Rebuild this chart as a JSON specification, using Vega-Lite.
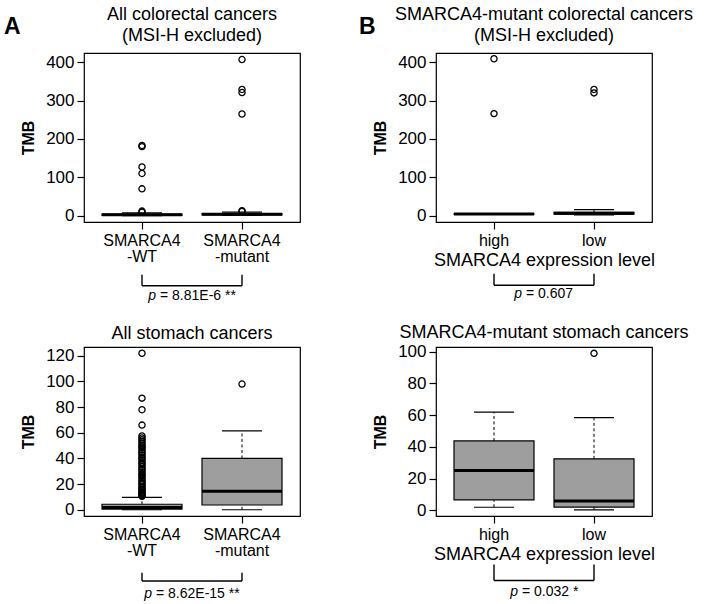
{
  "$schema": "https://vega.github.io/schema/vega-lite/v6.json",
  "padding": {"left": 4, "top": 5, "right": 5, "bottom": 5},
  "background": "white",
  "datasets": {
    "boxes": [
      {"panel": "TL", "group": "SMARCA4-WT", "lower": 0, "q1": 0.8, "median": 2.2, "q3": 4.2, "upper": 7.5},
      {"panel": "TL", "group": "SMARCA4-mutant", "lower": 0.5, "q1": 2, "median": 3.8, "q3": 5.5, "upper": 9},
      {"panel": "TR", "group": "high", "lower": 3.8, "q1": 4.2, "median": 4.5, "q3": 4.8, "upper": 5.2},
      {"panel": "TR", "group": "low", "lower": 2, "q1": 4, "median": 6, "q3": 8.5, "upper": 15.5},
      {"panel": "BL", "group": "SMARCA4-WT", "lower": 0, "q1": 0.5, "median": 1.8, "q3": 4.3, "upper": 9.7},
      {"panel": "BL", "group": "SMARCA4-mutant", "lower": 0, "q1": 3.7, "median": 14.5, "q3": 40, "upper": 61.5},
      {"panel": "BR", "group": "high", "lower": 2, "q1": 6.7, "median": 25.2, "q3": 43.8, "upper": 61.9},
      {"panel": "BR", "group": "low", "lower": 0.4, "q1": 2.1, "median": 5.9, "q3": 32.5, "upper": 58.5}
    ],
    "outliers": [
      {"panel": "TL", "group": "SMARCA4-WT", "tmb": 9},
      {"panel": "TL", "group": "SMARCA4-WT", "tmb": 12},
      {"panel": "TL", "group": "SMARCA4-WT", "tmb": 70},
      {"panel": "TL", "group": "SMARCA4-WT", "tmb": 110},
      {"panel": "TL", "group": "SMARCA4-WT", "tmb": 127},
      {"panel": "TL", "group": "SMARCA4-WT", "tmb": 180},
      {"panel": "TL", "group": "SMARCA4-WT", "tmb": 183},
      {"panel": "TL", "group": "SMARCA4-mutant", "tmb": 11},
      {"panel": "TL", "group": "SMARCA4-mutant", "tmb": 13},
      {"panel": "TL", "group": "SMARCA4-mutant", "tmb": 265},
      {"panel": "TL", "group": "SMARCA4-mutant", "tmb": 321},
      {"panel": "TL", "group": "SMARCA4-mutant", "tmb": 329},
      {"panel": "TL", "group": "SMARCA4-mutant", "tmb": 407},
      {"panel": "TR", "group": "high", "tmb": 266},
      {"panel": "TR", "group": "high", "tmb": 409},
      {"panel": "TR", "group": "low", "tmb": 320},
      {"panel": "TR", "group": "low", "tmb": 329},
      {"panel": "BL", "group": "SMARCA4-WT", "tmb": 10.5},
      {"panel": "BL", "group": "SMARCA4-WT", "tmb": 11},
      {"panel": "BL", "group": "SMARCA4-WT", "tmb": 11.8},
      {"panel": "BL", "group": "SMARCA4-WT", "tmb": 12.5},
      {"panel": "BL", "group": "SMARCA4-WT", "tmb": 13.3},
      {"panel": "BL", "group": "SMARCA4-WT", "tmb": 14},
      {"panel": "BL", "group": "SMARCA4-WT", "tmb": 15},
      {"panel": "BL", "group": "SMARCA4-WT", "tmb": 16},
      {"panel": "BL", "group": "SMARCA4-WT", "tmb": 17},
      {"panel": "BL", "group": "SMARCA4-WT", "tmb": 18},
      {"panel": "BL", "group": "SMARCA4-WT", "tmb": 19.5},
      {"panel": "BL", "group": "SMARCA4-WT", "tmb": 20.5},
      {"panel": "BL", "group": "SMARCA4-WT", "tmb": 22},
      {"panel": "BL", "group": "SMARCA4-WT", "tmb": 23},
      {"panel": "BL", "group": "SMARCA4-WT", "tmb": 24.5},
      {"panel": "BL", "group": "SMARCA4-WT", "tmb": 26},
      {"panel": "BL", "group": "SMARCA4-WT", "tmb": 27},
      {"panel": "BL", "group": "SMARCA4-WT", "tmb": 28},
      {"panel": "BL", "group": "SMARCA4-WT", "tmb": 29.5},
      {"panel": "BL", "group": "SMARCA4-WT", "tmb": 31},
      {"panel": "BL", "group": "SMARCA4-WT", "tmb": 32},
      {"panel": "BL", "group": "SMARCA4-WT", "tmb": 33.5},
      {"panel": "BL", "group": "SMARCA4-WT", "tmb": 35},
      {"panel": "BL", "group": "SMARCA4-WT", "tmb": 36},
      {"panel": "BL", "group": "SMARCA4-WT", "tmb": 37},
      {"panel": "BL", "group": "SMARCA4-WT", "tmb": 38.5},
      {"panel": "BL", "group": "SMARCA4-WT", "tmb": 40},
      {"panel": "BL", "group": "SMARCA4-WT", "tmb": 41},
      {"panel": "BL", "group": "SMARCA4-WT", "tmb": 42.5},
      {"panel": "BL", "group": "SMARCA4-WT", "tmb": 44},
      {"panel": "BL", "group": "SMARCA4-WT", "tmb": 45},
      {"panel": "BL", "group": "SMARCA4-WT", "tmb": 46.5},
      {"panel": "BL", "group": "SMARCA4-WT", "tmb": 48},
      {"panel": "BL", "group": "SMARCA4-WT", "tmb": 49},
      {"panel": "BL", "group": "SMARCA4-WT", "tmb": 50},
      {"panel": "BL", "group": "SMARCA4-WT", "tmb": 51.5},
      {"panel": "BL", "group": "SMARCA4-WT", "tmb": 53},
      {"panel": "BL", "group": "SMARCA4-WT", "tmb": 54.5},
      {"panel": "BL", "group": "SMARCA4-WT", "tmb": 56},
      {"panel": "BL", "group": "SMARCA4-WT", "tmb": 57.5},
      {"panel": "BL", "group": "SMARCA4-WT", "tmb": 66},
      {"panel": "BL", "group": "SMARCA4-WT", "tmb": 78},
      {"panel": "BL", "group": "SMARCA4-WT", "tmb": 87},
      {"panel": "BL", "group": "SMARCA4-WT", "tmb": 122},
      {"panel": "BL", "group": "SMARCA4-mutant", "tmb": 98},
      {"panel": "BR", "group": "low", "tmb": 99}
    ],
    "tests": [
      {"panel": "TL", "g1": "SMARCA4-WT", "g2": "SMARCA4-mutant", "stat": "p", "result": "= 8.81E-6 **"},
      {"panel": "TR", "g1": "high", "g2": "low", "stat": "p", "result": "= 0.607"},
      {"panel": "BL", "g1": "SMARCA4-WT", "g2": "SMARCA4-mutant", "stat": "p", "result": "= 8.62E-15 **"},
      {"panel": "BR", "g1": "high", "g2": "low", "stat": "p", "result": "= 0.032 *"}
    ]
  },
  "config": {
    "font": "Liberation Sans",
    "view": {"stroke": "black", "strokeWidth": 1.2},
    "axis": {
      "domain": false, "grid": false, "tickColor": "black", "tickSize": 7, "tickWidth": 1.2,
      "labelFont": "Liberation Sans", "labelFontSize": 17, "labelColor": "black", "labelPadding": 3, "labelOverlap": false,
      "titleFont": "Liberation Sans", "titleColor": "black"
    },
    "axisY": {"titleFontSize": 16, "titleFontWeight": "bold", "titlePadding": 9, "labelOverlap": false, "tickCount": 12},
    "axisX": {"labelFontSize": 16, "labelAngle": 0, "labelLineHeight": 16, "titleFontSize": 18, "titleFontWeight": "normal", "titlePadding": 3},
    "title": {"font": "Liberation Sans", "fontSize": 18, "fontWeight": "normal", "color": "black", "lineHeight": 21, "anchor": "middle", "frame": "group"}
  },
  "spacing": 58,
  "resolve": {"scale": {"x": "independent", "y": "independent"}},
  "hconcat": [
    {
      "title": {"text": "A", "fontSize": 23, "fontWeight": "bold", "anchor": "start", "frame": "group", "dx": -80, "dy": 34, "offset": 0},
      "bounds": "flush",
      "spacing": 125,
      "resolve": {"scale": {"x": "independent", "y": "independent"}},
      "vconcat": [
        {
          "width": 216, "height": 169,
          "title": {"text": ["All colorectal cancers", "(MSI-H excluded)"], "offset": 8},
          "layer": [
            {"data": {"name": "boxes"}, "transform": [{"filter": "datum.panel === 'TL'"}],
             "mark": {"type": "rule", "strokeDash": [3, 2.5], "strokeWidth": 1, "color": "black"},
             "encoding": {
               "x": {"field": "group", "type": "nominal", "sort": null, "scale": {"type": "band", "domain": ["SMARCA4-WT", "SMARCA4-mutant"], "paddingInner": 0.2, "paddingOuter": 0.18},
                     "axis": {"title": null, "labelExpr": "datum.value === 'SMARCA4-WT' ? ['SMARCA4', '-WT'] : ['SMARCA4', '-mutant']"}},
               "y": {"field": "q3", "type": "quantitative", "scale": {"domain": [-16.5, 424], "nice": false, "zero": false}, "axis": {"values": [0, 100, 200, 300, 400], "tickCount": 12, "title": "TMB", "labelOverlap": false}},
               "y2": {"field": "upper"}}},
            {"data": {"name": "boxes"}, "transform": [{"filter": "datum.panel === 'TL'"}],
             "mark": {"type": "rule", "strokeDash": [3, 2.5], "strokeWidth": 1, "color": "black"},
             "encoding": {"x": {"field": "group", "type": "nominal"}, "y": {"field": "lower", "type": "quantitative"}, "y2": {"field": "q1"}}},
            {"data": {"name": "boxes"}, "transform": [{"filter": "datum.panel === 'TL'"}],
             "mark": {"type": "tick", "size": 40, "thickness": 1.2, "color": "black", "opacity": 1},
             "encoding": {"x": {"field": "group", "type": "nominal"}, "y": {"field": "upper", "type": "quantitative"}}},
            {"data": {"name": "boxes"}, "transform": [{"filter": "datum.panel === 'TL'"}],
             "mark": {"type": "tick", "size": 40, "thickness": 1.2, "color": "black", "opacity": 1},
             "encoding": {"x": {"field": "group", "type": "nominal"}, "y": {"field": "lower", "type": "quantitative"}}},
            {"data": {"name": "boxes"}, "transform": [{"filter": "datum.panel === 'TL'"}],
             "mark": {"type": "bar", "fill": "#9e9e9e", "stroke": "black", "strokeWidth": 1.2},
             "encoding": {"x": {"field": "group", "type": "nominal"}, "y": {"field": "q1", "type": "quantitative"}, "y2": {"field": "q3"}}},
            {"data": {"name": "boxes"}, "transform": [{"filter": "datum.panel === 'TL'"}],
             "mark": {"type": "tick", "size": 80, "thickness": 3, "color": "black", "opacity": 1},
             "encoding": {"x": {"field": "group", "type": "nominal"}, "y": {"field": "median", "type": "quantitative"}}},
            {"data": {"name": "outliers"}, "transform": [{"filter": "datum.panel === 'TL'"}],
             "mark": {"type": "point", "shape": "circle", "filled": false, "size": 38, "strokeWidth": 1.3, "color": "black", "opacity": 1},
             "encoding": {"x": {"field": "group", "type": "nominal"}, "y": {"field": "tmb", "type": "quantitative"}}},
            {"data": {"name": "tests"}, "transform": [{"filter": "datum.panel === 'TL'"}],
             "mark": {"type": "rule", "color": "black", "strokeWidth": 1.4, "clip": false},
             "encoding": {"x": {"field": "g1", "type": "nominal", "bandPosition": 0.5}, "y": {"datum": -153.9}, "y2": {"datum": -182.5}}},
            {"data": {"name": "tests"}, "transform": [{"filter": "datum.panel === 'TL'"}],
             "mark": {"type": "rule", "color": "black", "strokeWidth": 1.4, "clip": false},
             "encoding": {"x": {"field": "g2", "type": "nominal", "bandPosition": 0.5}, "y": {"datum": -153.9}, "y2": {"datum": -182.5}}},
            {"data": {"name": "tests"}, "transform": [{"filter": "datum.panel === 'TL'"}],
             "mark": {"type": "rule", "color": "black", "strokeWidth": 1.4, "clip": false},
             "encoding": {"x": {"field": "g1", "type": "nominal", "bandPosition": 0.5}, "x2": {"field": "g2", "bandPosition": 0.5}, "y": {"datum": -182.5}}},
            {"data": {"name": "tests"}, "transform": [{"filter": "datum.panel === 'TL'"}],
             "mark": {"type": "text", "fontSize": 14, "fontStyle": "italic", "align": "right", "baseline": "alphabetic", "dx": -36, "color": "black", "clip": false},
             "encoding": {"x": {"field": "g1", "type": "nominal", "bandPosition": 1.125}, "y": {"datum": -219}, "text": {"field": "stat"}}},
            {"data": {"name": "tests"}, "transform": [{"filter": "datum.panel === 'TL'"}],
             "mark": {"type": "text", "fontSize": 14, "align": "left", "baseline": "alphabetic", "dx": -32, "color": "black", "clip": false},
             "encoding": {"x": {"field": "g1", "type": "nominal", "bandPosition": 1.125}, "y": {"datum": -219}, "text": {"field": "result"}}}
          ]
        },
        {
          "width": 216, "height": 169,
          "title": {"text": "All stomach cancers", "offset": 4},
          "layer": [
            {"data": {"name": "boxes"}, "transform": [{"filter": "datum.panel === 'BL'"}],
             "mark": {"type": "rule", "strokeDash": [3, 2.5], "strokeWidth": 1, "color": "black"},
             "encoding": {
               "x": {"field": "group", "type": "nominal", "sort": null, "scale": {"type": "band", "domain": ["SMARCA4-WT", "SMARCA4-mutant"], "paddingInner": 0.2, "paddingOuter": 0.18},
                     "axis": {"title": null, "labelExpr": "datum.value === 'SMARCA4-WT' ? ['SMARCA4', '-WT'] : ['SMARCA4', '-mutant']"}},
               "y": {"field": "q3", "type": "quantitative", "scale": {"domain": [-4.88, 126.88], "nice": false, "zero": false}, "axis": {"values": [0, 20, 40, 60, 80, 100, 120], "tickCount": 12, "title": "TMB", "labelOverlap": false}},
               "y2": {"field": "upper"}}},
            {"data": {"name": "boxes"}, "transform": [{"filter": "datum.panel === 'BL'"}],
             "mark": {"type": "rule", "strokeDash": [3, 2.5], "strokeWidth": 1, "color": "black"},
             "encoding": {"x": {"field": "group", "type": "nominal"}, "y": {"field": "lower", "type": "quantitative"}, "y2": {"field": "q1"}}},
            {"data": {"name": "boxes"}, "transform": [{"filter": "datum.panel === 'BL'"}],
             "mark": {"type": "tick", "size": 40, "thickness": 1.2, "color": "black", "opacity": 1},
             "encoding": {"x": {"field": "group", "type": "nominal"}, "y": {"field": "upper", "type": "quantitative"}}},
            {"data": {"name": "boxes"}, "transform": [{"filter": "datum.panel === 'BL'"}],
             "mark": {"type": "tick", "size": 40, "thickness": 1.2, "color": "black", "opacity": 1},
             "encoding": {"x": {"field": "group", "type": "nominal"}, "y": {"field": "lower", "type": "quantitative"}}},
            {"data": {"name": "boxes"}, "transform": [{"filter": "datum.panel === 'BL'"}],
             "mark": {"type": "bar", "fill": "#9e9e9e", "stroke": "black", "strokeWidth": 1.2},
             "encoding": {"x": {"field": "group", "type": "nominal"}, "y": {"field": "q1", "type": "quantitative"}, "y2": {"field": "q3"}}},
            {"data": {"name": "boxes"}, "transform": [{"filter": "datum.panel === 'BL'"}],
             "mark": {"type": "tick", "size": 80, "thickness": 3, "color": "black", "opacity": 1},
             "encoding": {"x": {"field": "group", "type": "nominal"}, "y": {"field": "median", "type": "quantitative"}}},
            {"data": {"name": "outliers"}, "transform": [{"filter": "datum.panel === 'BL'"}],
             "mark": {"type": "point", "shape": "circle", "filled": false, "size": 38, "strokeWidth": 1.3, "color": "black", "opacity": 1},
             "encoding": {"x": {"field": "group", "type": "nominal"}, "y": {"field": "tmb", "type": "quantitative"}}},
            {"data": {"name": "tests"}, "transform": [{"filter": "datum.panel === 'BL'"}],
             "mark": {"type": "rule", "color": "black", "strokeWidth": 1.4, "clip": false},
             "encoding": {"x": {"field": "g1", "type": "nominal", "bandPosition": 0.5}, "y": {"datum": -49.1}, "y2": {"datum": -55.6}}},
            {"data": {"name": "tests"}, "transform": [{"filter": "datum.panel === 'BL'"}],
             "mark": {"type": "rule", "color": "black", "strokeWidth": 1.4, "clip": false},
             "encoding": {"x": {"field": "g2", "type": "nominal", "bandPosition": 0.5}, "y": {"datum": -49.1}, "y2": {"datum": -55.6}}},
            {"data": {"name": "tests"}, "transform": [{"filter": "datum.panel === 'BL'"}],
             "mark": {"type": "rule", "color": "black", "strokeWidth": 1.4, "clip": false},
             "encoding": {"x": {"field": "g1", "type": "nominal", "bandPosition": 0.5}, "x2": {"field": "g2", "bandPosition": 0.5}, "y": {"datum": -55.6}}},
            {"data": {"name": "tests"}, "transform": [{"filter": "datum.panel === 'BL'"}],
             "mark": {"type": "text", "fontSize": 14, "fontStyle": "italic", "align": "right", "baseline": "alphabetic", "dx": -40, "color": "black", "clip": false},
             "encoding": {"x": {"field": "g1", "type": "nominal", "bandPosition": 1.125}, "y": {"datum": -68.8}, "text": {"field": "stat"}}},
            {"data": {"name": "tests"}, "transform": [{"filter": "datum.panel === 'BL'"}],
             "mark": {"type": "text", "fontSize": 14, "align": "left", "baseline": "alphabetic", "dx": -36, "color": "black", "clip": false},
             "encoding": {"x": {"field": "g1", "type": "nominal", "bandPosition": 1.125}, "y": {"datum": -68.8}, "text": {"field": "result"}}}
          ]
        }
      ]
    },
    {
      "title": {"text": "B", "fontSize": 23, "fontWeight": "bold", "anchor": "start", "frame": "group", "dx": -77, "dy": 34, "offset": 0},
      "bounds": "flush",
      "spacing": 125,
      "resolve": {"scale": {"x": "independent", "y": "independent"}},
      "vconcat": [
        {
          "width": 216, "height": 169,
          "title": {"text": ["SMARCA4-mutant colorectal cancers", "(MSI-H excluded)"], "offset": 8},
          "layer": [
            {"data": {"name": "boxes"}, "transform": [{"filter": "datum.panel === 'TR'"}],
             "mark": {"type": "rule", "strokeDash": [3, 2.5], "strokeWidth": 1, "color": "black"},
             "encoding": {
               "x": {"field": "group", "type": "nominal", "sort": null, "scale": {"type": "band", "domain": ["high", "low"], "paddingInner": 0.2, "paddingOuter": 0.18},
                     "axis": {"title": "SMARCA4 expression level"}},
               "y": {"field": "q3", "type": "quantitative", "scale": {"domain": [-16.5, 424], "nice": false, "zero": false}, "axis": {"values": [0, 100, 200, 300, 400], "tickCount": 12, "title": "TMB", "labelOverlap": false}},
               "y2": {"field": "upper"}}},
            {"data": {"name": "boxes"}, "transform": [{"filter": "datum.panel === 'TR'"}],
             "mark": {"type": "rule", "strokeDash": [3, 2.5], "strokeWidth": 1, "color": "black"},
             "encoding": {"x": {"field": "group", "type": "nominal"}, "y": {"field": "lower", "type": "quantitative"}, "y2": {"field": "q1"}}},
            {"data": {"name": "boxes"}, "transform": [{"filter": "datum.panel === 'TR'"}],
             "mark": {"type": "tick", "size": 40, "thickness": 1.2, "color": "black", "opacity": 1},
             "encoding": {"x": {"field": "group", "type": "nominal"}, "y": {"field": "upper", "type": "quantitative"}}},
            {"data": {"name": "boxes"}, "transform": [{"filter": "datum.panel === 'TR'"}],
             "mark": {"type": "tick", "size": 40, "thickness": 1.2, "color": "black", "opacity": 1},
             "encoding": {"x": {"field": "group", "type": "nominal"}, "y": {"field": "lower", "type": "quantitative"}}},
            {"data": {"name": "boxes"}, "transform": [{"filter": "datum.panel === 'TR'"}],
             "mark": {"type": "bar", "fill": "#9e9e9e", "stroke": "black", "strokeWidth": 1.2},
             "encoding": {"x": {"field": "group", "type": "nominal"}, "y": {"field": "q1", "type": "quantitative"}, "y2": {"field": "q3"}}},
            {"data": {"name": "boxes"}, "transform": [{"filter": "datum.panel === 'TR'"}],
             "mark": {"type": "tick", "size": 80, "thickness": 3, "color": "black", "opacity": 1},
             "encoding": {"x": {"field": "group", "type": "nominal"}, "y": {"field": "median", "type": "quantitative"}}},
            {"data": {"name": "outliers"}, "transform": [{"filter": "datum.panel === 'TR'"}],
             "mark": {"type": "point", "shape": "circle", "filled": false, "size": 38, "strokeWidth": 1.3, "color": "black", "opacity": 1},
             "encoding": {"x": {"field": "group", "type": "nominal"}, "y": {"field": "tmb", "type": "quantitative"}}},
            {"data": {"name": "tests"}, "transform": [{"filter": "datum.panel === 'TR'"}],
             "mark": {"type": "rule", "color": "black", "strokeWidth": 1.4, "clip": false},
             "encoding": {"x": {"field": "g1", "type": "nominal", "bandPosition": 0.5}, "y": {"datum": -151.2}, "y2": {"datum": -181.5}}},
            {"data": {"name": "tests"}, "transform": [{"filter": "datum.panel === 'TR'"}],
             "mark": {"type": "rule", "color": "black", "strokeWidth": 1.4, "clip": false},
             "encoding": {"x": {"field": "g2", "type": "nominal", "bandPosition": 0.5}, "y": {"datum": -151.2}, "y2": {"datum": -181.5}}},
            {"data": {"name": "tests"}, "transform": [{"filter": "datum.panel === 'TR'"}],
             "mark": {"type": "rule", "color": "black", "strokeWidth": 1.4, "clip": false},
             "encoding": {"x": {"field": "g1", "type": "nominal", "bandPosition": 0.5}, "x2": {"field": "g2", "bandPosition": 0.5}, "y": {"datum": -181.5}}},
            {"data": {"name": "tests"}, "transform": [{"filter": "datum.panel === 'TR'"}],
             "mark": {"type": "text", "fontSize": 14, "fontStyle": "italic", "align": "right", "baseline": "alphabetic", "dx": -22, "color": "black", "clip": false},
             "encoding": {"x": {"field": "g1", "type": "nominal", "bandPosition": 1.125}, "y": {"datum": -214.5}, "text": {"field": "stat"}}},
            {"data": {"name": "tests"}, "transform": [{"filter": "datum.panel === 'TR'"}],
             "mark": {"type": "text", "fontSize": 14, "align": "left", "baseline": "alphabetic", "dx": -18, "color": "black", "clip": false},
             "encoding": {"x": {"field": "g1", "type": "nominal", "bandPosition": 1.125}, "y": {"datum": -214.5}, "text": {"field": "result"}}}
          ]
        },
        {
          "width": 216, "height": 169,
          "title": {"text": "SMARCA4-mutant stomach cancers", "offset": 1},
          "layer": [
            {"data": {"name": "boxes"}, "transform": [{"filter": "datum.panel === 'BR'"}],
             "mark": {"type": "rule", "strokeDash": [3, 2.5], "strokeWidth": 1, "color": "black"},
             "encoding": {
               "x": {"field": "group", "type": "nominal", "sort": null, "scale": {"type": "band", "domain": ["high", "low"], "paddingInner": 0.2, "paddingOuter": 0.18},
                     "axis": {"title": "SMARCA4 expression level"}},
               "y": {"field": "q3", "type": "quantitative", "scale": {"domain": [-3.5, 103], "nice": false, "zero": false}, "axis": {"values": [0, 20, 40, 60, 80, 100], "tickCount": 12, "title": "TMB", "labelOverlap": false}},
               "y2": {"field": "upper"}}},
            {"data": {"name": "boxes"}, "transform": [{"filter": "datum.panel === 'BR'"}],
             "mark": {"type": "rule", "strokeDash": [3, 2.5], "strokeWidth": 1, "color": "black"},
             "encoding": {"x": {"field": "group", "type": "nominal"}, "y": {"field": "lower", "type": "quantitative"}, "y2": {"field": "q1"}}},
            {"data": {"name": "boxes"}, "transform": [{"filter": "datum.panel === 'BR'"}],
             "mark": {"type": "tick", "size": 40, "thickness": 1.2, "color": "black", "opacity": 1},
             "encoding": {"x": {"field": "group", "type": "nominal"}, "y": {"field": "upper", "type": "quantitative"}}},
            {"data": {"name": "boxes"}, "transform": [{"filter": "datum.panel === 'BR'"}],
             "mark": {"type": "tick", "size": 40, "thickness": 1.2, "color": "black", "opacity": 1},
             "encoding": {"x": {"field": "group", "type": "nominal"}, "y": {"field": "lower", "type": "quantitative"}}},
            {"data": {"name": "boxes"}, "transform": [{"filter": "datum.panel === 'BR'"}],
             "mark": {"type": "bar", "fill": "#9e9e9e", "stroke": "black", "strokeWidth": 1.2},
             "encoding": {"x": {"field": "group", "type": "nominal"}, "y": {"field": "q1", "type": "quantitative"}, "y2": {"field": "q3"}}},
            {"data": {"name": "boxes"}, "transform": [{"filter": "datum.panel === 'BR'"}],
             "mark": {"type": "tick", "size": 80, "thickness": 3, "color": "black", "opacity": 1},
             "encoding": {"x": {"field": "group", "type": "nominal"}, "y": {"field": "median", "type": "quantitative"}}},
            {"data": {"name": "outliers"}, "transform": [{"filter": "datum.panel === 'BR'"}],
             "mark": {"type": "point", "shape": "circle", "filled": false, "size": 38, "strokeWidth": 1.3, "color": "black", "opacity": 1},
             "encoding": {"x": {"field": "group", "type": "nominal"}, "y": {"field": "tmb", "type": "quantitative"}}},
            {"data": {"name": "tests"}, "transform": [{"filter": "datum.panel === 'BR'"}],
             "mark": {"type": "rule", "color": "black", "strokeWidth": 1.4, "clip": false},
             "encoding": {"x": {"field": "g1", "type": "nominal", "bandPosition": 0.5}, "y": {"datum": -34.1}, "y2": {"datum": -44.1}}},
            {"data": {"name": "tests"}, "transform": [{"filter": "datum.panel === 'BR'"}],
             "mark": {"type": "rule", "color": "black", "strokeWidth": 1.4, "clip": false},
             "encoding": {"x": {"field": "g2", "type": "nominal", "bandPosition": 0.5}, "y": {"datum": -34.1}, "y2": {"datum": -44.1}}},
            {"data": {"name": "tests"}, "transform": [{"filter": "datum.panel === 'BR'"}],
             "mark": {"type": "rule", "color": "black", "strokeWidth": 1.4, "clip": false},
             "encoding": {"x": {"field": "g1", "type": "nominal", "bandPosition": 0.5}, "x2": {"field": "g2", "bandPosition": 0.5}, "y": {"datum": -44.1}}},
            {"data": {"name": "tests"}, "transform": [{"filter": "datum.panel === 'BR'"}],
             "mark": {"type": "text", "fontSize": 14, "fontStyle": "italic", "align": "right", "baseline": "alphabetic", "dx": -26, "color": "black", "clip": false},
             "encoding": {"x": {"field": "g1", "type": "nominal", "bandPosition": 1.125}, "y": {"datum": -53.6}, "text": {"field": "stat"}}},
            {"data": {"name": "tests"}, "transform": [{"filter": "datum.panel === 'BR'"}],
             "mark": {"type": "text", "fontSize": 14, "align": "left", "baseline": "alphabetic", "dx": -22, "color": "black", "clip": false},
             "encoding": {"x": {"field": "g1", "type": "nominal", "bandPosition": 1.125}, "y": {"datum": -53.6}, "text": {"field": "result"}}}
          ]
        }
      ]
    }
  ]
}
